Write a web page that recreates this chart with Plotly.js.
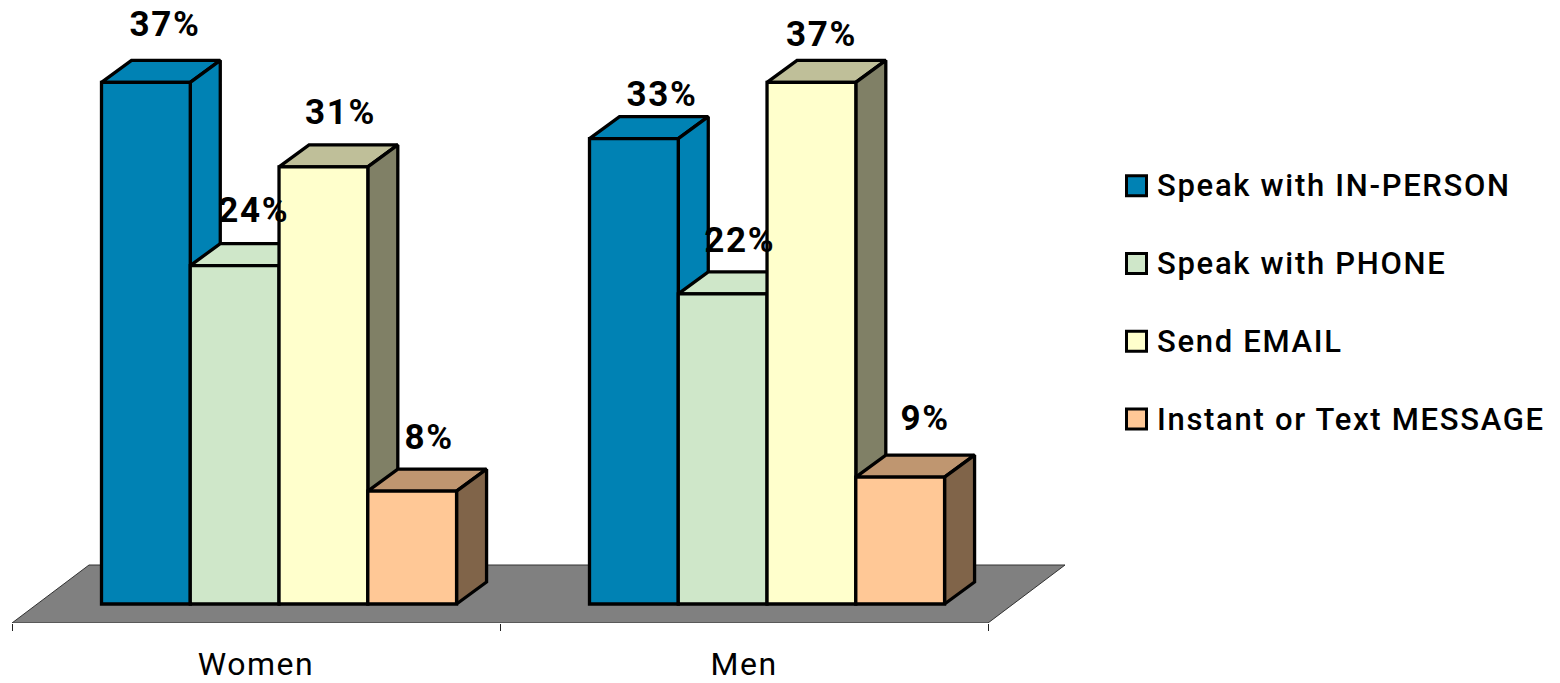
<!DOCTYPE html>
<html>
<head>
<meta charset="utf-8">
<script src="https://cdn.plot.ly/plotly-3.0.1.min.js"></script>
<style>
html,body{margin:0;padding:0;background:#fff}
#chart{width:1560px;height:683px}
#chart .textpoint text{letter-spacing:1.7px}
#chart .xtick text{letter-spacing:1.5px}
</style>
</head>
<body>
<div id="chart"></div>
<script>
// Share of respondents by preferred way of communicating
const categories = ['Women', 'Men'];
const seriesNames = ['Speak with IN-PERSON', 'Speak with PHONE', 'Send EMAIL', 'Instant or Text MESSAGE'];
const inPerson = [37, 33];
const phone = [24, 22];
const email = [31, 37];
const message = [8, 9];
const seriesValues = [inPerson, phone, email, message];

const frontColors = ['#0082B4', '#CFE7C9', '#FFFFCC', '#FFC896'];
const topColors = ['#0082B4', '#CFE7C9', '#BFBF99', '#BF9670'];
const sideColors = ['#0082B4', '#CFE7C9', '#808066', '#806449'];

// Axis extents, with one category spanning 488px and one percent about 14.1px
const pxPerCat = 488, pxPerPct = 14.1;
const dx = 30 / pxPerCat, dy = 22 / pxPerPct;   // extrusion of each column
const barWidth = 0.1819, firstOffset = -0.3166;
const axisY = -19 / pxPerPct, yTop = 604 / pxPerPct;
const plotHeight = 623;
const positions = categories.map((_, i) => i);

// Hand placement of the percentage labels, in pixels, per series and group
const labelNudgeX = [[2, 11], [2, 0], [0, -7], [0, 8]];
const labelNudgeY = [[-5, 9], [-2, -1], [-2, 5], [-1, -6]];

function facePolygons(build) {
  const xs = [], ys = [];
  positions.forEach((p, g) => {
    build(p, g).forEach(pt => { xs.push(pt[0]); ys.push(pt[1]); });
    xs.push(null); ys.push(null);
  });
  return {x: xs, y: ys};
}

const traces = [];

// Floor plate under both groups; its front edge doubles as the axis line
const floorDepth = 77 / pxPerCat;
traces.push({
  type: 'scatter', mode: 'lines', fill: 'toself', fillcolor: '#808080',
  x: [-0.5, 1.5, 1.5 + floorDepth, -0.5 + floorDepth, -0.5],
  y: [axisY, axisY, 39 / pxPerPct, 39 / pxPerPct, axisY],
  line: {color: '#333333', width: 1},
  cliponaxis: false, hoverinfo: 'skip', showlegend: false, zorder: 0
});

seriesValues.forEach((vals, s) => {
  const left = firstOffset + s * barWidth;
  const top = facePolygons((p, g) => {
    const x0 = p + left, v = vals[g];
    return [[x0, v], [x0 + barWidth, v], [x0 + barWidth + dx, v + dy], [x0 + dx, v + dy], [x0, v]];
  });
  const side = facePolygons((p, g) => {
    const x1 = p + left + barWidth, v = vals[g];
    return [[x1, 0], [x1 + dx, dy], [x1 + dx, v + dy], [x1, v], [x1, 0]];
  });
  [[top, topColors[s]], [side, sideColors[s]]].forEach(([poly, color]) => {
    traces.push({
      type: 'scatter', mode: 'lines', fill: 'toself', fillcolor: color,
      x: poly.x, y: poly.y,
      line: {color: '#000', width: 3.3},
      cliponaxis: false, hoverinfo: 'skip', showlegend: false, zorder: 2 * s + 1
    });
  });
  traces.push({
    type: 'bar', name: seriesNames[s], x: positions, y: vals,
    width: barWidth, offset: left,
    marker: {color: frontColors[s], line: {color: '#000', width: 3.3}},
    cliponaxis: false, showlegend: false, zorder: 2 * s + 2
  });
});

// Percentage labels above every column
seriesValues.forEach((vals, s) => {
  traces.push({
    type: 'scatter', mode: 'text',
    x: positions.map((p, g) => p + firstOffset + (s + 0.5) * barWidth + 0.035 + labelNudgeX[s][g] / pxPerCat),
    y: vals.map((v, g) => v + (50 - labelNudgeY[s][g]) / pxPerPct),
    text: vals.map(v => v + '%'),
    textposition: 'middle center',
    textfont: {family: 'Roboto, sans-serif', size: 35, weight: 700, color: '#000'},
    cliponaxis: false, hoverinfo: 'skip', showlegend: false, zorder: 20
  });
});

// Series key on its own small axes to the right of the plot
const keyRows = seriesNames.map((_, i) => i);
traces.push({
  type: 'scatter', mode: 'markers', xaxis: 'x2', yaxis: 'y2',
  x: keyRows.map(() => 26.5), y: keyRows,
  marker: {symbol: 'square', size: 20, color: frontColors, line: {color: '#000', width: 3}},
  hoverinfo: 'skip', showlegend: false
});
traces.push({
  type: 'scatter', mode: 'text', xaxis: 'x2', yaxis: 'y2',
  x: keyRows.map(() => 47), y: keyRows.map(r => r + 0.035), text: seriesNames,
  textposition: 'middle right',
  textfont: {family: 'Roboto, sans-serif', size: 31, weight: 500, color: '#000'},
  cliponaxis: false, hoverinfo: 'skip', showlegend: false
});

const layout = {
  width: 1560, height: 683,
  margin: {l: 0, r: 0, t: 0, b: 683 - plotHeight},
  paper_bgcolor: '#fff', plot_bgcolor: 'rgba(0,0,0,0)',
  showlegend: false,
  xaxis: {
    domain: [0, 1], range: [-0.5 - 12 / pxPerCat, -0.5 + 1548 / pxPerCat], anchor: 'y',
    tickvals: positions, ticktext: categories, ticks: '',
    ticklabelstandoff: 19,
    tickfont: {family: 'Roboto, sans-serif', size: 32, weight: 400, color: '#000'},
    showgrid: false, zeroline: false, showline: false,
    minor: {tickvals: [-0.5, 0.5, 1.5], ticks: 'outside', ticklen: 7, tickcolor: '#222', tickwidth: 1, showgrid: false}
  },
  yaxis: {
    domain: [0, 1], range: [axisY, yTop], visible: false, fixedrange: true
  },
  xaxis2: {
    domain: [1110 / 1560, 1], range: [0, 450], anchor: 'y2', visible: false
  },
  yaxis2: {
    domain: [1 - 458 / plotHeight, 1 - 147 / plotHeight], range: [3.5, -0.5], anchor: 'x2', visible: false
  }
};

Plotly.newPlot('chart', traces, layout, {displayModeBar: false, staticPlot: true});
</script>
</body>
</html>
